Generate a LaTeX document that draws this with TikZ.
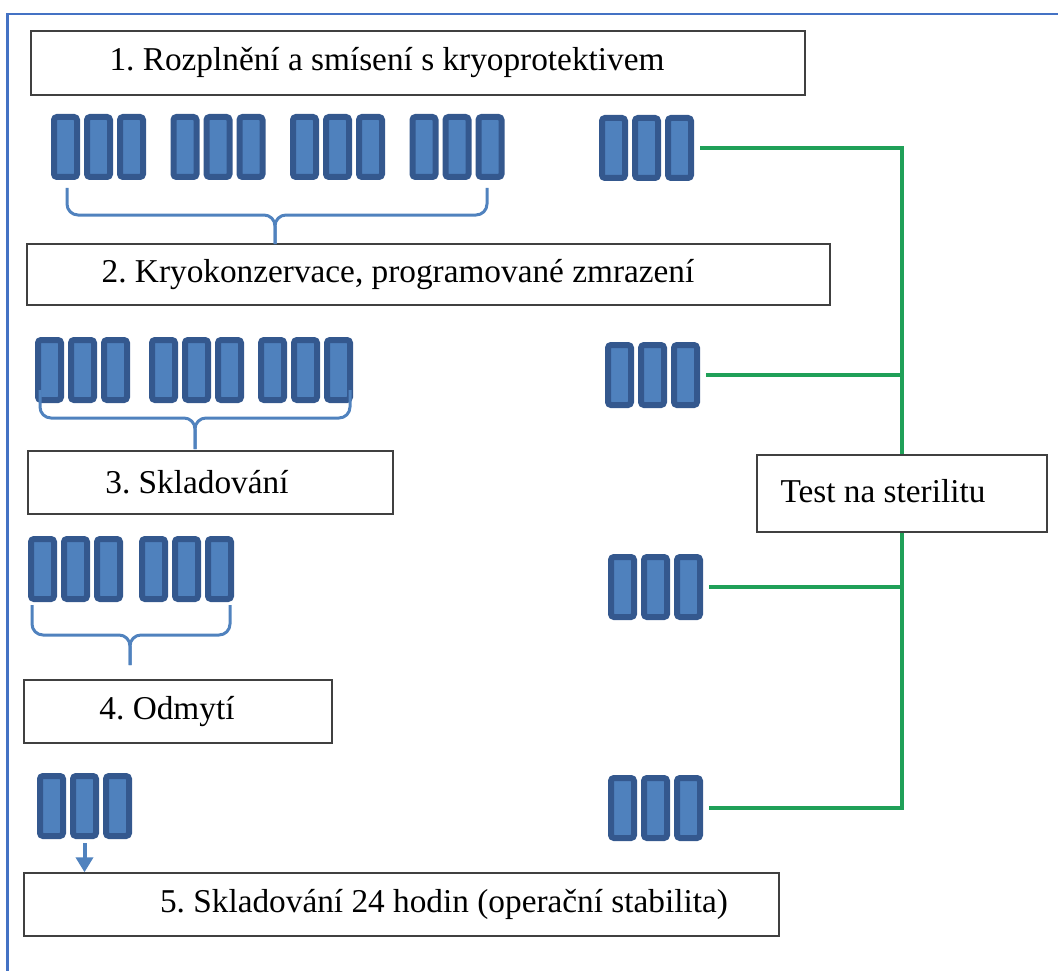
\documentclass[tikz,border=0pt]{standalone}
\usepackage{fontspec}
\setmainfont{Liberation Serif}
\usetikzlibrary{arrows.meta}
\frenchspacing
\definecolor{TubeEdge}{RGB}{52,88,142}
\definecolor{TubeFill}{RGB}{79,129,189}
\definecolor{BraceBlue}{RGB}{80,130,190}
\definecolor{FrameBlue}{RGB}{68,114,196}
\definecolor{TestGreen}{RGB}{32,160,88}
\tikzset{
  stepbox/.style={draw=black!75,line width=1.4pt,minimum height=63pt,inner sep=0pt,
    font=\fontsize{33.3}{40}\selectfont},
  tube/.style={draw=TubeEdge,fill=TubeFill,line width=6pt,rounded corners=3pt,
    minimum width=23pt,minimum height=60pt,inner sep=0pt},
  brace/.style={draw=BraceBlue,line width=3pt,rounded corners=11pt},
  testline/.style={draw=TestGreen,line width=3.5pt,shorten <=6pt},
  flow/.style={-{Triangle[width=17pt,length=15pt]},draw=BraceBlue,line width=4pt,shorten <=4pt}
}
\begin{document}
\begin{tikzpicture}[x=1pt,y=-1pt]
  \useasboundingbox (0,0) rectangle (1058,971);
  \clip (0,0) rectangle (1058,971);
  \draw[FrameBlue,line width=2.8pt] (7.5,990) |- (1070,14);

  \node[stepbox,minimum width=774pt,minimum height=64pt] (s1) at (418,63)
    {1. Rozplnění a smísení s kryoprotektivem\hspace*{62pt}};
  \node[stepbox,minimum width=803pt,minimum height=61pt] (s2) at (428.5,274.5)
    {2. Kryokonzervace, programované zmrazení\hspace*{61pt}};
  \node[stepbox,minimum width=365pt] (s3) at (210.5,482.5)
    {3. Skladování\hspace*{27pt}};
  \node[stepbox,minimum width=308pt] (s4) at (178,711.5)
    {4. Odmytí\hspace*{22pt}};
  \node[stepbox,minimum width=755pt] (s5) at (401.5,904.5)
    {\hspace*{85pt}5. Skladování 24 hodin (operační stabilita)};
  \node[stepbox,minimum width=290pt,minimum height=77pt] (test) at (902,493.5)
    {\raisebox{5pt}{Test na sterilitu}\hspace*{38pt}};

  \foreach \g in {0,...,3}
    \foreach \i in {0,1,2}
      \node[tube] (a\g\i) at ({65.5+119.5*\g+33*\i},147) {};
  \foreach \s [count=\g from 0] in {35,149,258}
    \foreach \i in {0,1,2}
      \node[tube] (b\g\i) at ({\s+14.5+33*\i},370) {};
  \foreach \s [count=\g from 0] in {28,139}
    \foreach \i in {0,1,2}
      \node[tube] (c\g\i) at ({\s+14.5+33*\i},569) {};
  \foreach \i in {0,1,2}
    \node[tube] (d\i) at ({51.5+33*\i},806) {};
  \foreach \s/\y [count=\k] in {599/148,605/375,608/587,608/808}
    \foreach \i in {0,1,2}
      \node[tube] (r\k\i) at ({\s+14.5+33*\i},\y) {};

  \draw[brace] (67,188) |- (275,215) -- (275,244);
  \draw[brace] (487,188) |- (275,215) -- (275,244);
  \draw[brace] (40,390) |- (195,418) -- (195,449);
  \draw[brace] (350,390) |- (195,418) -- (195,449);
  \draw[brace] (32,605) |- (130,635) -- (130,665);
  \draw[brace] (230,605) |- (130,635) -- (130,665);

  \draw[flow] (d1.south) -- (d1.south |- s5.north);

  \draw[testline] (r12.east) -| (test.north);
  \draw[testline] (r22.east) -- (r22.east -| test.north);
  \draw[testline] (r32.east) -- (r32.east -| test.south);
  \draw[testline] (r42.east) -| (test.south);
\end{tikzpicture}
\end{document}
